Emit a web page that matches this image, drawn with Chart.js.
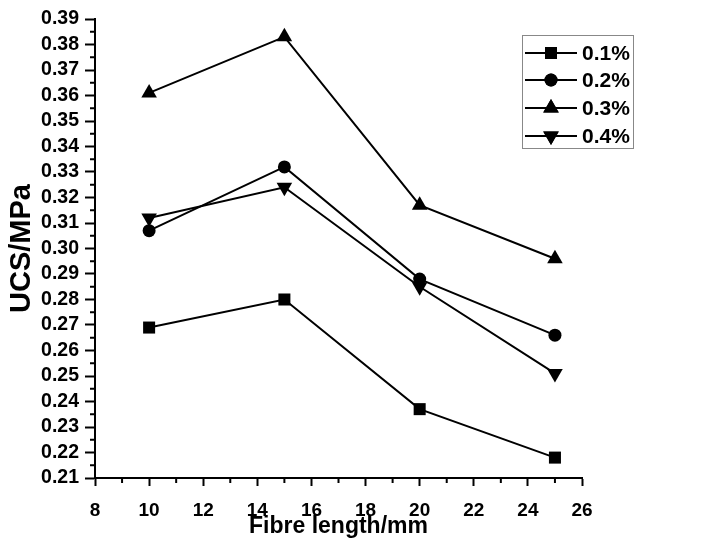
<!DOCTYPE html>
<html>
<head>
<meta charset="utf-8">
<script src="https://cdn.jsdelivr.net/npm/chart.js@4/dist/chart.umd.min.js"></script>
<style>
  html, body { margin: 0; padding: 0; background: #fff; }
  canvas { display: block; }
</style>
</head>
<body>
<canvas id="myChart" width="706" height="538"></canvas>
<script>
// fibre length (mm) and UCS (MPa) per fibre content
const fibreLength = [10, 15, 20, 25];
const seriesNames = ['0.1%', '0.2%', '0.3%', '0.4%'];
const ucs01 = [0.269, 0.280, 0.237, 0.218];
const ucs02 = [0.307, 0.332, 0.288, 0.266];
const ucs03 = [0.361, 0.383, 0.317, 0.296];
const ucs04 = [0.312, 0.324, 0.285, 0.251];

const FONT = '"Liberation Sans", Arial, sans-serif';

function toPoints(vals) {
    return fibreLength.map((x, i) => ({ x: x, y: vals[i] }));
}

function makeSet(label, vals, style, radius, rotation) {
    return {
        label: label,
        data: toPoints(vals),
        borderColor: '#000',
        backgroundColor: '#000',
        borderWidth: 2,
        pointStyle: style,
        pointRadius: radius,
        pointRotation: rotation,
        pointBorderWidth: 0,
        pointBackgroundColor: '#000',
        showLine: true,
        tension: 0
    };
}

// minor ticks halfway between the major ones
const minorTicks = {
    id: 'minorTicks',
    afterDraw(chart) {
        const ctx = chart.ctx;
        const xs = chart.scales.x, ys = chart.scales.y;
        ctx.save();
        ctx.strokeStyle = '#000';
        ctx.lineWidth = 2;
        for (let v = 9; v < 26; v += 2) {
            const px = xs.getPixelForValue(v);
            ctx.beginPath();
            ctx.moveTo(px, ys.bottom);
            ctx.lineTo(px, ys.bottom + 5);
            ctx.stroke();
        }
        for (let i = 0; i < 18; i++) {
            const py = ys.getPixelForValue(0.215 + i * 0.01);
            ctx.beginPath();
            ctx.moveTo(xs.left, py);
            ctx.lineTo(xs.left - 5, py);
            ctx.stroke();
        }
        ctx.restore();
    }
};

// legend box: line with marker, then label
const lineLegend = {
    id: 'lineLegend',
    afterDraw(chart) {
        const ctx = chart.ctx;
        ctx.save();
        ctx.strokeStyle = '#888';
        ctx.lineWidth = 1;
        ctx.strokeRect(522.5, 35.5, 111, 113);
        const rows = [53, 80, 108, 136];
        chart.data.datasets.forEach((ds, i) => {
            const y = rows[i];
            ctx.strokeStyle = '#000';
            ctx.lineWidth = 2;
            ctx.beginPath();
            ctx.moveTo(525, y);
            ctx.lineTo(577, y);
            ctx.stroke();
            ctx.fillStyle = '#000';
            Chart.helpers.drawPoint(ctx, {
                pointStyle: ds.pointStyle,
                radius: ds.pointRadius,
                rotation: ds.pointRotation,
                borderWidth: 0
            }, 551, y);
            ctx.fill();
            ctx.font = 'bold 21px ' + FONT;
            ctx.textBaseline = 'middle';
            ctx.textAlign = 'left';
            ctx.fillText(ds.label, 582, y + 1);
        });
        ctx.restore();
    }
};

const data = {
    datasets: [
        makeSet(seriesNames[0], ucs01, 'rect', 8.5, 0),
        makeSet(seriesNames[1], ucs02, 'circle', 6.5, 0),
        makeSet(seriesNames[2], ucs03, 'triangle', 9, 0),
        makeSet(seriesNames[3], ucs04, 'triangle', 9, 180)
    ]
};

const config = {
    type: 'scatter',
    data: data,
    plugins: [minorTicks, lineLegend],
    options: {
        responsive: false,
        animation: false,
        layout: { padding: { left: 0, right: 124, top: 19, bottom: 0 } },
        plugins: {
            legend: { display: false },
            tooltip: { enabled: false }
        },
        scales: {
            x: {
                type: 'linear',
                min: 8,
                max: 26,
                ticks: {
                    stepSize: 2,
                    color: '#000',
                    padding: 13,
                    autoSkip: false,
                    font: { family: FONT, size: 19, weight: 'bold' }
                },
                grid: {
                    drawOnChartArea: false,
                    tickLength: 8,
                    tickWidth: 2,
                    tickColor: '#000'
                },
                border: { display: true, color: '#000', width: 2 },
                title: {
                    display: true,
                    text: 'Fibre length/mm',
                    color: '#000',
                    padding: { top: 0, bottom: -2 },
                    font: { family: FONT, size: 23, weight: 'bold' }
                },
                afterFit(scale) { scale.height = 60; }
            },
            y: {
                min: 0.21,
                max: 0.39,
                ticks: {
                    stepSize: 0.01,
                    color: '#000',
                    padding: 6,
                    autoSkip: false,
                    font: { family: FONT, size: 19.5, weight: 'bold' },
                    callback: v => v.toFixed(2)
                },
                grid: {
                    drawOnChartArea: false,
                    tickLength: 10,
                    tickWidth: 2,
                    tickColor: '#000'
                },
                border: { display: true, color: '#000', width: 2 },
                title: {
                    display: true,
                    text: 'UCS/MPa',
                    color: '#000',
                    padding: { top: 5, bottom: 0 },
                    font: { family: FONT, size: 29, weight: 'bold' }
                },
                afterFit(scale) { scale.width = 95; }
            }
        }
    }
};

const myChart = new Chart(document.getElementById('myChart'), config);
</script>
</body>
</html>
